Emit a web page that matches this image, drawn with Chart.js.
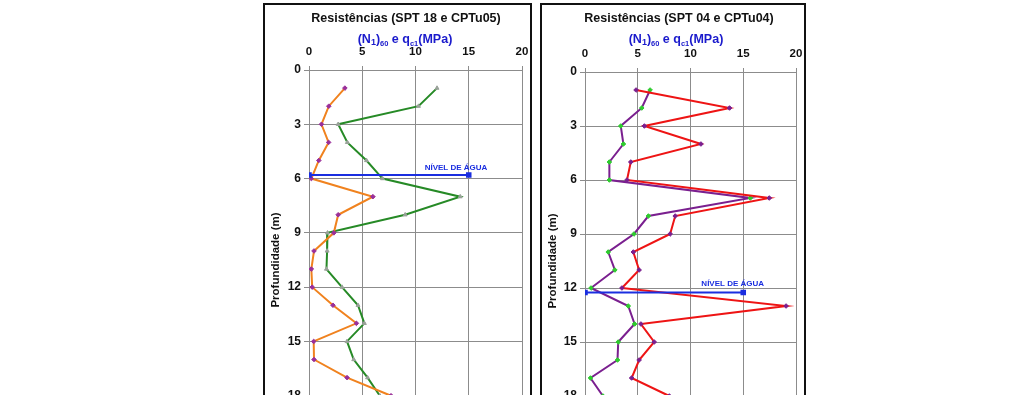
<!DOCTYPE html>
<html>
<head>
<meta charset="utf-8">
<script src="https://cdn.jsdelivr.net/npm/chart.js@4.4.0/dist/chart.umd.min.js"></script>
<style>
    html, body { margin: 0; padding: 0; background: #fff; overflow: hidden; width: 1024px; height: 395px; }
    .panel { position: absolute; top: 3px; border: 2px solid #111; background: #fff; }
    #panel1 { left: 263px; }
    #panel2 { left: 540px; }
    canvas { display: block; }
</style>
</head>
<body>
<div class="panel" id="panel1"><canvas id="chart1" width="265" height="451"></canvas></div>
<div class="panel" id="panel2"><canvas id="chart2" width="262" height="451"></canvas></div>
<script>
// depths (m)
const depths = [1, 2, 3, 4, 5, 6, 7, 8, 9, 10, 11, 12, 13, 14, 15, 16, 17, 18];

// SPT 18 / CPTu05
const spt18 = [3.37, 1.86, 1.17, 1.84, 0.92, 0.22, 6.0, 2.74, 2.33, 0.47, 0.22, 0.3, 2.25, 4.45, 0.44, 0.47, 3.57, 7.7];
const cptu05 = [12.02, 10.28, 2.74, 3.6, 5.4, 6.9, 14.2, 9.03, 1.74, 1.7, 1.64, 3.1, 4.6, 5.2, 3.57, 4.2, 5.5, 6.65];

// SPT 04 / CPTu04
const spt04 = [4.84, 13.7, 5.63, 10.99, 4.34, 3.98, 17.47, 8.55, 8.07, 4.58, 5.13, 3.5, 19.06, 5.3, 6.56, 5.13, 4.42, 7.99];
const cptu04 = [6.17, 5.38, 3.39, 3.64, 2.31, 2.31, 15.67, 6.01, 4.64, 2.2, 2.83, 0.57, 4.1, 4.7, 3.15, 3.08, 0.52, 1.7];

// water level (m) and the extent of its line along x
const waterLevel1 = 5.8;
const waterLevel2 = 12.25;
const waterLineX = [0, 15];

const xTicks = [0, 5, 10, 15, 20];
const depthTicks = [0, 3, 6, 9, 12, 15, 18];

const FONT = "'Liberation Sans', Arial, sans-serif";

function series(values, color, markerColor, markerStyle) {
    return {
        data: depths.map((d, i) => ({ x: values[i], y: d })),
        showLine: true,
        borderColor: color,
        borderWidth: 2,
        pointStyle: markerStyle,
        pointRadius: 2.3,
        pointBackgroundColor: markerColor,
        pointBorderColor: markerColor,
        pointBorderWidth: 1,
        tension: 0
    };
}

function waterLine(level) {
    return {
        data: waterLineX.map(x => ({ x: x, y: level })),
        showLine: true,
        borderColor: '#1a2ee0',
        borderWidth: 2,
        pointStyle: 'rect',
        pointRadius: 2.5,
        pointBackgroundColor: '#1a2ee0',
        pointBorderColor: '#1a2ee0'
    };
}

// titles, subtitle with subscripts and water level label
const panelText = {
    id: 'panelText',
    afterDraw(chart, args, opts) {
        const ctx = chart.ctx;
        ctx.save();
        ctx.fillStyle = '#111';
        ctx.textAlign = 'center';
        ctx.textBaseline = 'alphabetic';
        ctx.font = 'bold 12.5px ' + FONT;
        ctx.fillText(opts.title, opts.titleX, opts.titleY);

        const parts = [['(N', 0], ['1', 1], [')', 0], ['60', 2], [' e q', 0], ['c1', 2], ['(MPa)', 0]];
        const fonts = ['bold 12.5px ', 'bold 9px ', 'bold 7.5px '];
        const drops = [0, 2, 3];
        let total = 0;
        parts.forEach(p => { ctx.font = fonts[p[1]] + FONT; total += ctx.measureText(p[0]).width; });
        let x = opts.subX - total / 2;
        ctx.textAlign = 'left';
        ctx.fillStyle = '#1a1acc';
        parts.forEach(p => {
            ctx.font = fonts[p[1]] + FONT;
            ctx.fillText(p[0], x, opts.subY + drops[p[1]]);
            x += ctx.measureText(p[0]).width;
        });

        const xs = chart.scales.x, ys = chart.scales.y;
        ctx.textAlign = 'center';
        ctx.fillStyle = '#1a2ee0';
        ctx.font = 'bold 8px ' + FONT;
        ctx.fillText('NÍVEL DE ÁGUA', xs.getPixelForValue(opts.labelX), ys.getPixelForValue(opts.level) - opts.labelGap);
        ctx.restore();
    }
};

function makePanel(id, datasets, t) {
    new Chart(document.getElementById(id), {
        type: 'scatter',
        data: { datasets: datasets },
        options: {
            responsive: false,
            animation: false,
            devicePixelRatio: 1,
            layout: { padding: { top: t.padTop, right: t.padRight, left: 0, bottom: 0 } },
            plugins: {
                legend: { display: false },
                tooltip: { enabled: false },
                panelText: t
            },
            scales: {
                x: {
                    type: 'linear',
                    position: 'top',
                    min: 0,
                    max: 20,
                    afterBuildTicks: s => { s.ticks = xTicks.map(v => ({ value: v })); },
                    afterFit: s => { s.height = 28; s.paddingLeft = 0; s.paddingRight = 0; },
                    ticks: { color: '#111', font: { family: FONT, size: 11.5, weight: 'bold' }, padding: 7, maxRotation: 0 },
                    grid: { color: '#8c8c8c', lineWidth: 1, tickLength: 4 },
                    border: { color: '#8c8c8c' }
                },
                y: {
                    type: 'linear',
                    reverse: true,
                    min: 0,
                    max: 21,
                    afterBuildTicks: s => { s.ticks = depthTicks.map(v => ({ value: v })); },
                    afterFit: s => { s.width = t.yWidth; s.paddingTop = 0; s.paddingBottom = 0; },
                    ticks: { color: '#111', font: { family: FONT, size: 12, weight: 'bold' }, padding: 3 },
                    grid: { color: '#8c8c8c', lineWidth: 1, tickLength: 5 },
                    border: { color: '#8c8c8c' },
                    title: {
                        display: true,
                        text: 'Profundidade (m)',
                        color: '#111',
                        font: { family: FONT, size: 11.5, weight: 'bold' },
                        padding: { top: 4, bottom: 0 }
                    }
                }
            }
        },
        plugins: [panelText]
    });
}

makePanel('chart1', [
    waterLine(waterLevel1),
    series(spt18, '#f0821e', '#9a2f9a', 'rectRot'),
    series(cptu05, '#268a26', '#9aa29a', 'triangle')
], {
    title: 'Resistências (SPT 18 e CPTu05)', titleX: 141, titleY: 16.7,
    subX: 140, subY: 37.5,
    padTop: 37, padRight: 8, yWidth: 44,
    level: waterLevel1, labelX: 13.8, labelGap: 5
});

makePanel('chart2', [
    waterLine(waterLevel2),
    series(spt04, '#ee1414', '#7a1f8f', 'rectRot'),
    series(cptu04, '#7a1f8f', '#2ecc2e', 'rectRot')
], {
    title: 'Resistências (SPT 04 e CPTu04)', titleX: 137, titleY: 17,
    subX: 134, subY: 38,
    padTop: 39, padRight: 8, yWidth: 43,
    level: waterLevel2, labelX: 14.0, labelGap: 7
});
</script>
</body>
</html>
